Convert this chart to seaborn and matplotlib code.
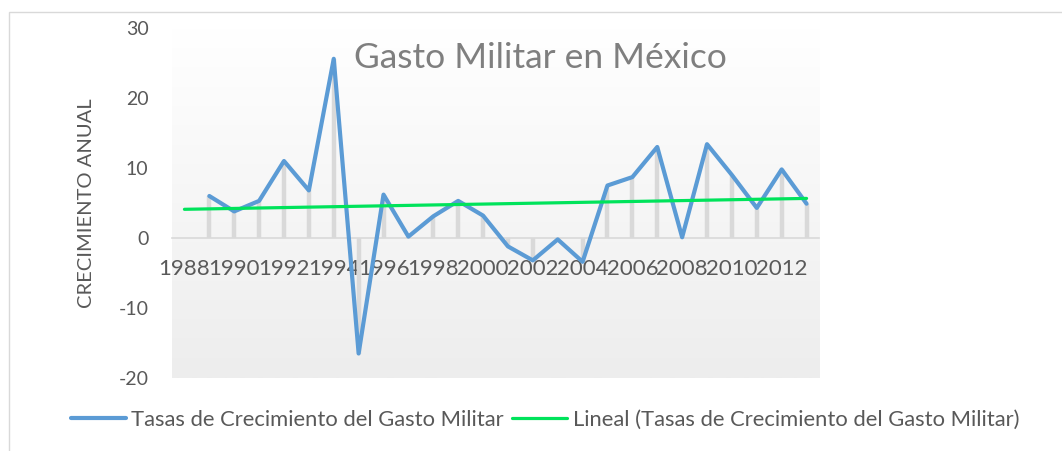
import numpy as np
import pandas as pd
import seaborn as sns
import matplotlib.pyplot as plt
from matplotlib.colors import LinearSegmentedColormap
from matplotlib.patches import Rectangle

# tasas de crecimiento anual del gasto militar (1988 no tiene dato)
anios = list(range(1989, 2014))
tasas = [6.0, 3.8, 5.3, 11.0, 6.8, 25.6, -16.5, 6.2, 0.2, 3.1, 5.3, 3.2, -1.2,
         -3.2, -0.2, -3.4, 7.5, 8.7, 13.0, 0.1, 13.4, 9.0, 4.3, 9.8, 4.9]
anios_eje = list(range(1988, 2014))
etiquetas_x = [str(a) for a in range(1988, 2013, 2)]
ticks_y = [-20, -10, 0, 10, 20, 30]

serie = "Tasas de Crecimiento del Gasto Militar"
tendencia = "Lineal (Tasas de Crecimiento del Gasto Militar)"

df = pd.DataFrame({"anio": anios, "tasa": tasas})
# tendencia lineal tipo Excel, dibujada sobre todo el eje (desde 1988)
pend, corte = np.polyfit(df["anio"], df["tasa"], 1)
df_tend = pd.DataFrame({"anio": anios_eje})
df_tend["tasa"] = pend * df_tend["anio"] + corte

sns.set_theme(style="white")
plt.rcParams["font.family"] = ["Lato", "DejaVu Sans"]
plt.rcParams["axes.unicode_minus"] = False

fig = plt.figure(figsize=(10.62, 4.51), dpi=100)
ax = fig.add_axes([172 / 1062, 73 / 451, 647 / 1062, 350 / 451])

# fondo degradado del area de trazado
degradado = LinearSegmentedColormap.from_list("fondo", ["#ffffff", "#ededed"])
ax.imshow(np.linspace(0, 1, 256).reshape(-1, 1), cmap=degradado, aspect="auto",
          extent=[0, 1, 0, 1], transform=ax.transAxes, zorder=0)

# lineas de caida
ax.vlines(df["anio"], 0, df["tasa"], color="#d9d9d9", lw=3.2, zorder=1)

sns.lineplot(data=df, x="anio", y="tasa", color="#5B9BD5", lw=3, label=serie,
             ax=ax, zorder=3, solid_joinstyle="round", solid_capstyle="round")
sns.lineplot(data=df_tend, x="anio", y="tasa", color="#00E35B", lw=2.3,
             label=tendencia, ax=ax, zorder=4)

ax.set_xlim(1987.5, 2013.5)
ax.set_ylim(-20, 30)
ax.set_xticks(range(1988, 2013, 2))
ax.set_xticklabels(etiquetas_x)
ax.set_yticks(ticks_y)
ax.tick_params(axis="x", length=0, pad=15, labelsize=16, labelcolor="#595959")
ax.tick_params(axis="y", length=0, pad=17, labelsize=14, labelcolor="#595959")
for s in ["top", "right", "left"]:
    ax.spines[s].set_visible(False)
ax.spines["bottom"].set_position(("data", 0))
ax.spines["bottom"].set_color("#d9d9d9")
ax.spines["bottom"].set_linewidth(1.2)

ax.set_xlabel("")
ax.set_ylabel("CRECIMIENTO ANUAL", fontsize=14.5, color="#595959")
ax.yaxis.set_label_coords(-0.119, 0.5)

fig.text(540 / 1062, 1 - 68 / 451, "Gasto Militar en México", ha="center",
         va="baseline", fontsize=25.5, color="#7f7f7f")

ax.legend(loc="center", bbox_to_anchor=(0.5765, -0.12), ncol=2, frameon=False,
          fontsize=15.8, handlelength=2.5, handletextpad=0.25, columnspacing=0.4,
          labelcolor="#595959")

# borde del grafico
fig.add_artist(Rectangle((9 / 1062, -0.1), 1.1, 1 - 12 / 451 + 0.1,
                         transform=fig.transFigure, fill=False, ec="#d9d9d9", lw=1))

fig.savefig("out.png", dpi=100)
